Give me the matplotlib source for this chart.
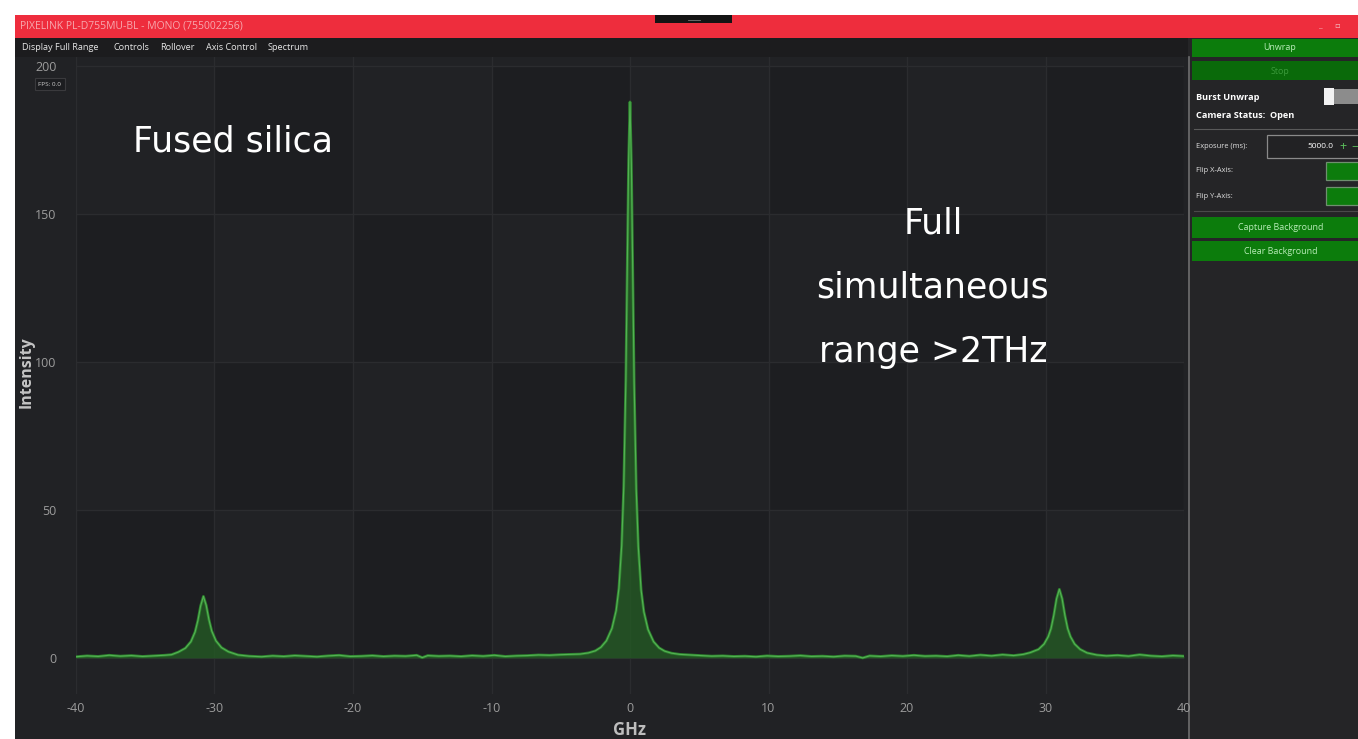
import matplotlib.pyplot as plt
from matplotlib.patches import Rectangle

plt.rcParams["axes.unicode_minus"] = False

W, H = 1358, 739

# spectrum: frequency shift (GHz) vs intensity
ghz = [-40.0, -39.2, -38.4, -37.6, -36.8, -36.0, -35.2, -34.4, -33.6, -33.1,
       -32.6, -32.1, -31.7, -31.4, -31.2, -31.0, -30.8, -30.6, -30.4, -30.2,
       -29.9, -29.5, -29.0, -28.3,
       -27.5, -26.6, -25.8, -25.0, -24.2, -23.4, -22.6, -21.8, -21.0, -20.2,
       -19.4, -18.6, -17.8, -17.0, -16.2, -15.4, -15.0, -14.6, -13.8, -13.0,
       -12.2, -11.4, -10.6, -9.8, -9.0, -8.2, -7.4, -6.6, -5.8, -5.0, -4.4,
       -3.6, -3.0, -2.5, -2.1, -1.7, -1.3, -1.0, -0.8, -0.6, -0.45, -0.3,
       -0.2, -0.1, 0.0, 0.1, 0.2, 0.3, 0.45, 0.6, 0.8, 1.0, 1.3, 1.7, 2.1,
       2.5, 3.0, 3.6,
       4.3, 5.1, 5.9, 6.7, 7.5, 8.3, 9.1, 9.9, 10.7, 11.5, 12.3, 13.1, 13.9,
       14.7, 15.5, 16.3, 16.8, 17.3, 18.1, 18.9, 19.7, 20.5, 21.3, 22.1, 22.9,
       23.7, 24.5, 25.3, 26.1, 26.9, 27.7, 28.4,
       28.9, 29.5, 29.9, 30.2, 30.4, 30.6, 30.8, 31.0, 31.2, 31.4, 31.6, 31.8,
       32.1, 32.5, 33.0, 33.7,
       34.4, 35.2, 36.0, 36.8, 37.6, 38.4, 39.2, 40.0]
intensity = [0.4, 0.7, 0.5, 0.9, 0.6, 0.8, 0.5, 0.7, 0.9, 1.1,
             2.0, 3.3, 5.5, 8.8, 12.6, 17.6, 20.8, 17.8, 12.9, 9.1,
             5.8, 3.5, 2.1, 1.0,
             0.6, 0.4, 0.7, 0.5, 0.8, 0.6, 0.4, 0.7, 0.9, 0.5,
             0.6, 0.8, 0.5, 0.7, 0.6, 0.9, 0.1, 0.8, 0.6, 0.7,
             0.5, 0.8, 0.6, 0.9, 0.5, 0.7, 0.8, 1.0, 0.9, 1.1, 1.2,
             1.3, 1.7, 2.4, 3.6, 5.8, 10.0, 16.0, 23.5, 38.0, 58.0, 94.0,
             130.0, 168.0, 188.0, 167.0, 129.0, 93.0, 57.0, 37.5, 23.0, 15.6, 9.6, 5.5, 3.4,
             2.3, 1.6, 1.2,
             1.0, 0.8, 0.6, 0.7, 0.5, 0.6, 0.4, 0.7, 0.5, 0.6, 0.8, 0.5, 0.6,
             0.4, 0.7, 0.6, 0.0, 0.7, 0.5, 0.8, 0.6, 0.9, 0.6, 0.7, 0.5,
             0.9, 0.6, 1.0, 0.7, 1.1, 0.8, 1.2,
             1.8, 2.9, 4.7, 7.2, 9.9, 14.4, 20.0, 23.2, 20.0, 14.4, 9.9, 7.2,
             4.7, 2.9, 1.7, 1.0,
             0.7, 0.9, 0.6, 1.1, 0.7, 0.5, 0.8, 0.6]

x_ticks = [-40, -30, -20, -10, 0, 10, 20, 30, 40]
y_ticks = [0, 50, 100, 150, 200]
menu_items = ["Display Full Range", "Controls", "Rollover", "Axis Control", "Spectrum"]
menu_x = [22, 113, 160, 206, 268]
note_lines = ["Full", "simultaneous", "range >2THz"]

ui_font = ["Open Sans", "DejaVu Sans"]

fig = plt.figure(figsize=(W / 100, H / 100), dpi=100, facecolor="white")

# background / window chrome in pixel coordinates
bg = fig.add_axes([0, 0, 1, 1], zorder=0)
bg.set_xlim(0, W)
bg.set_ylim(H, 0)
bg.axis("off")


def box(x0, y0, x1, y1, fc, ec="none", lw=0):
    bg.add_patch(Rectangle((x0, y0), x1 - x0, y1 - y0, facecolor=fc,
                           edgecolor=ec, linewidth=lw))


box(15, 15, W, 38, "#ee2d3d")                 # title bar
box(655, 15, 732, 23, "#141414")
bg.plot([688, 700], [20, 20], color="#777777", lw=0.6)
bg.text(20, 26.5, "PIXELINK PL-D755MU-BL - MONO (755002256)", color="#f7a8ae",
        fontsize=7.5, va="center", family=ui_font)
bg.text(1318, 27, "_", color="#f6c0c4", fontsize=6, va="center", family=ui_font)
bg.text(1334, 27, "\u25ab", color="#f6c0c4", fontsize=6, va="center", family=ui_font)
box(15, 38, 1188, 57, "#1c1c1e")              # menu bar
for label, mx in zip(menu_items, menu_x):
    bg.text(mx, 47.5, label, color="#e6e6e6", fontsize=6.6, va="center", family=ui_font)
box(15, 57, 1188, H, "#212225")               # plot window

# right side control panel
box(1188, 38, W, H, "#252527")
bg.plot([1188.5, 1188.5], [57, H], color="#6e6e6e", lw=1.2)
box(1192, 39, W, 57, "#0c7c0c")
bg.text(1280, 48, "Unwrap", color="#b8ecb8", fontsize=6.4, ha="center", va="center", family=ui_font)
box(1192, 61, W, 80, "#0a6a0a")
bg.text(1280, 71, "Stop", color="#3b9a3b", fontsize=6.4, ha="center", va="center", family=ui_font)
bg.text(1196, 97, "Burst Unwrap", color="white", fontsize=6.6, weight="bold", va="center", family=ui_font)
box(1324, 88, 1334, 105, "#f2f2f2")
box(1334, 89, W, 104, "#8c8c8c")
bg.text(1196, 116, "Camera Status:  Open", color="white", fontsize=6.6, weight="bold",
        va="center", family=ui_font)
bg.plot([1194, W], [129, 129], color="#5a5a5a", lw=0.8)
bg.text(1196, 147, "Exposure (ms):", color="#e0e0e0", fontsize=5.4, va="center", family=ui_font)
box(1267, 135, W + 2, 158, "#222224", ec="#8a8a8a", lw=0.9)
bg.text(1333, 146.5, "5000.0", color="white", fontsize=6.0, ha="right", va="center", family=ui_font)
bg.text(1343, 146.5, "+", color="#5bbf5b", fontsize=9, ha="center", va="center", family=ui_font)
bg.text(1355, 146.5, "\u2212", color="#5bbf5b", fontsize=9, ha="center", va="center", family=ui_font)
bg.text(1196, 171, "Flip X-Axis:", color="#e0e0e0", fontsize=5.4, va="center", family=ui_font)
box(1326, 162, W + 2, 180, "#0c7c0c", ec="#6f8f6f", lw=0.9)
bg.text(1196, 196, "Flip Y-Axis:", color="#e0e0e0", fontsize=5.4, va="center", family=ui_font)
box(1326, 187, W + 2, 205, "#0c7c0c", ec="#6f8f6f", lw=0.9)
bg.plot([1194, W], [211, 211], color="#4a4a4a", lw=0.8)
box(1192, 217, W, 238, "#0c7c0c")
bg.text(1281, 227.5, "Capture Background", color="#b8ecb8", fontsize=6.4, ha="center",
        va="center", family=ui_font)
box(1192, 241, W, 261, "#0c7c0c")
bg.text(1281, 251, "Clear Background", color="#b8ecb8", fontsize=6.4, ha="center",
        va="center", family=ui_font)

# the spectrum plot
x0, x1, y0, y1 = 76, 1184, 57, 694
ax = fig.add_axes([x0 / W, 1 - y1 / H, (x1 - x0) / W, (y1 - y0) / H], zorder=1)
ax.set_facecolor("#212225")
ax.set_xlim(-40, 40)
ax.set_ylim(-12.2, 203.2)

# very faint checkerboard of the grid cells
for i in range(-4, 4):
    for j in range(0, 4):
        if (i + j) % 2 == 0:
            ax.add_patch(Rectangle((i * 10, j * 50), 10, 50, facecolor="#1d1e21",
                                   edgecolor="none", zorder=0))

ax.set_xticks(x_ticks)
ax.set_yticks(y_ticks)
ax.grid(True, color="#2b2c2f", lw=1.0, zorder=0.5)
for s in ax.spines.values():
    s.set_visible(False)
ax.tick_params(length=0, colors="#9c9c9c", labelsize=9)
ax.tick_params(axis="x", pad=6)
ax.tick_params(axis="y", pad=14)
for t in ax.get_xticklabels() + ax.get_yticklabels():
    t.set_family(ui_font)

ax.fill_between(ghz, 0, intensity, color="#245a24", alpha=0.8, lw=0, zorder=2)
ax.plot(ghz, intensity, color="#2c832c", lw=2.0, zorder=3)
ax.plot(ghz, intensity, color="#55b055", lw=0.8, zorder=4)

ax.set_xlabel("GHz", color="#bdbdbd", fontsize=12, weight="bold", family=ui_font, labelpad=4)
ax.set_ylabel("Intensity", color="#c4c4c4", fontsize=11.5, weight="bold", family=ui_font)
ax.yaxis.set_label_coords((35 - x0) / (x1 - x0), (y1 - 372) / (y1 - y0))

# FPS badge
ax.text(50, 84, "FPS: 0.0", transform=bg.transData, color="#d0d0d0", fontsize=4.6,
        ha="center", va="center", family=ui_font,
        bbox=dict(boxstyle="square,pad=0.5", fc="#1c1d20", ec="#3a3a3d", lw=0.8))

# white annotations on the plot
ax.text(233, 142, "Fused silica", transform=bg.transData, color="white", fontsize=25,
        ha="center", va="center", family="DejaVu Sans", zorder=6)
for k, line in enumerate(note_lines):
    ax.text(933, 224 + 64 * k, line, transform=bg.transData, color="white", fontsize=25,
            ha="center", va="center", family="DejaVu Sans", zorder=6)

fig.savefig("out.png", dpi=100, facecolor=fig.get_facecolor())
